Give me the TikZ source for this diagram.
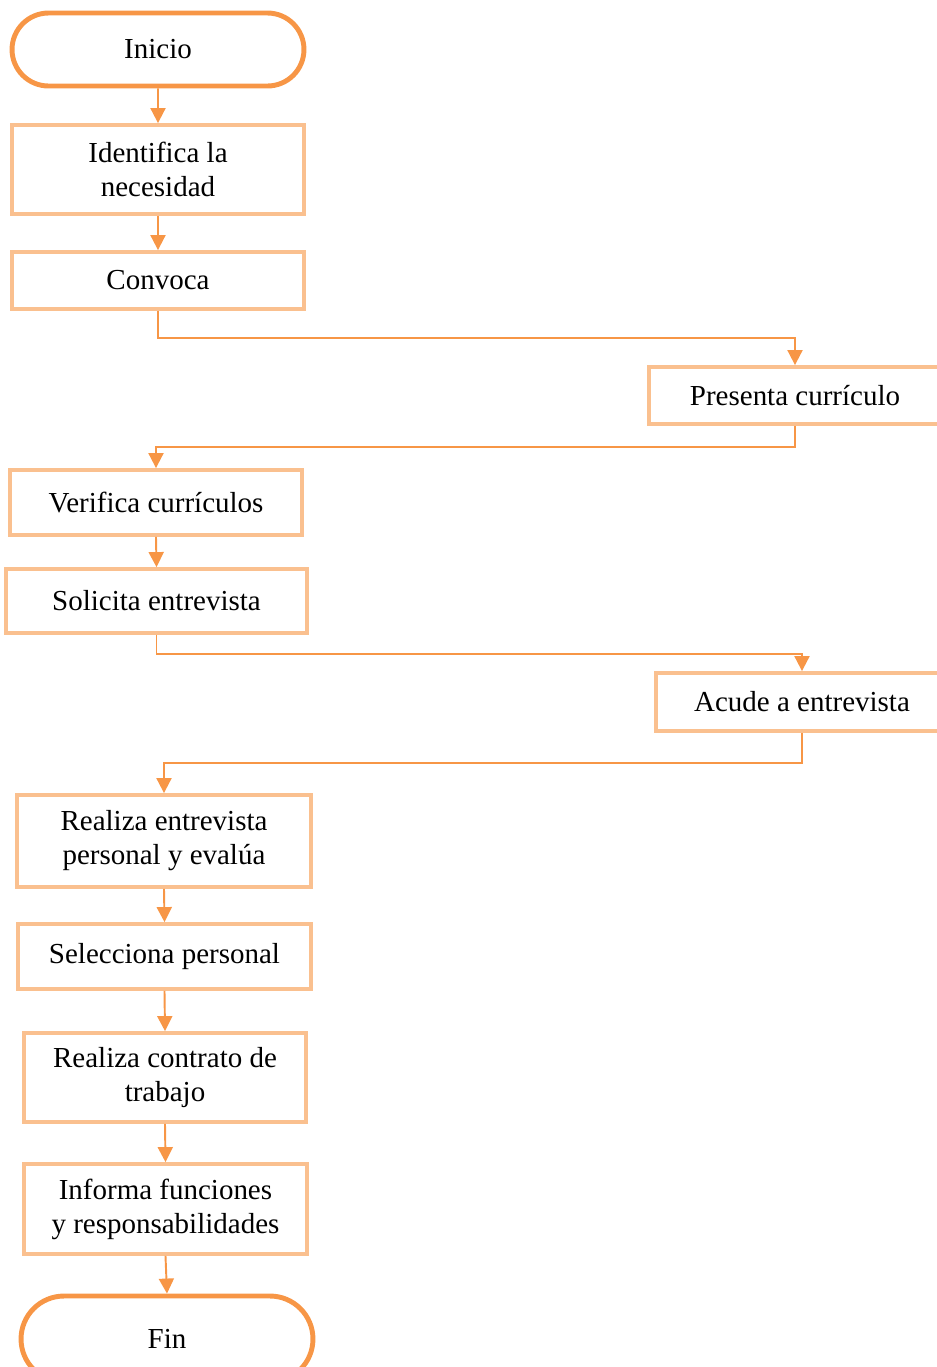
\documentclass[tikz,border=0pt]{standalone}
\usepackage{fontspec}
\setmainfont{Liberation Serif}
\usetikzlibrary{arrows.meta,shapes.misc}
\definecolor{flechaorange}{RGB}{247,150,70}
\definecolor{cajaorange}{RGB}{250,192,143}

\tikzset{
  paso/.style={rectangle, draw=cajaorange, line width=2.2pt, minimum width=5.84cm,
    align=center, inner sep=0pt, font=\fontsize{16.5}{19.4}\selectfont},
  extremo/.style={rounded rectangle, draw=flechaorange, line width=2.8pt, minimum width=5.84cm,
    minimum height=1.46cm, inner sep=0pt, font=\fontsize{16.5}{19.4}\selectfont},
  flecha/.style={draw=flechaorange, line width=1.1pt, -{Triangle[length=0.3cm,width=0.3cm]}}
}

\begin{document}
\begin{tikzpicture}[x=0.02cm,y=-0.02cm]
  \useasboundingbox (0,0) rectangle (937,1367);
  \clip (0,0) rectangle (937,1367);
  % left column and the two boxes on the right
  \node[extremo] (inicio) at (158,49.5) {Inicio};
  \node[paso, minimum height=1.78cm] (identifica) at (158,169.5) {Identifica la\\necesidad};
  \node[paso, minimum height=1.14cm] (convoca) at (158,280.5) {Convoca};
  \node[paso, minimum height=1.14cm] (presenta) at (795,395.5) {Presenta currículo};
  \node[paso, minimum height=1.3cm] (verifica) at (156,502.5) {Verifica currículos};
  \node[paso, minimum height=1.28cm, minimum width=6.02cm] (solicita) at (156.5,601) {Solicita entrevista};
  \node[paso, minimum height=1.16cm] (acude) at (802,702) {Acude a entrevista};
  \node[paso, minimum height=1.84cm, minimum width=5.88cm] (realiza) at (164,841) {Realiza entrevista\\personal y evalúa};
  \node[paso, minimum height=1.3cm, minimum width=5.86cm] (selecciona) at (164.5,956.5) {Selecciona personal};
  \node[paso, minimum height=1.78cm, minimum width=5.64cm] (contrato) at (165,1077.5) {Realiza contrato de\\trabajo};
  \node[paso, minimum height=1.8cm, minimum width=5.66cm] (informa) at (165.5,1209) {Informa funciones\\y responsabilidades};
  \node[extremo, minimum height=1.72cm] (fin) at (167,1339) {Fin};

  % connectors
  \draw[flecha] (inicio) -- (identifica);
  \draw[flecha] (identifica) -- (convoca);
  \draw[flecha] (convoca.south) -- ++(0,27) -| (presenta.north);
  \draw[flecha] (presenta.south) -- ++(0,21) -| (verifica.north);
  \draw[flecha] (verifica.south) -- (solicita.north);
  \draw[flecha] (solicita.south) -- ++(0,19) -| (acude.north);
  \draw[flecha] (acude.south) -- ++(0,30) -| (realiza.north);
  \draw[flecha] (realiza.south) -- (selecciona.north);
  \draw[flecha] (selecciona.south) -- (contrato.north);
  \draw[flecha] (contrato.south) -- (informa.north);
  \draw[flecha] (informa.south) -- (fin.north);
\end{tikzpicture}
\end{document}
